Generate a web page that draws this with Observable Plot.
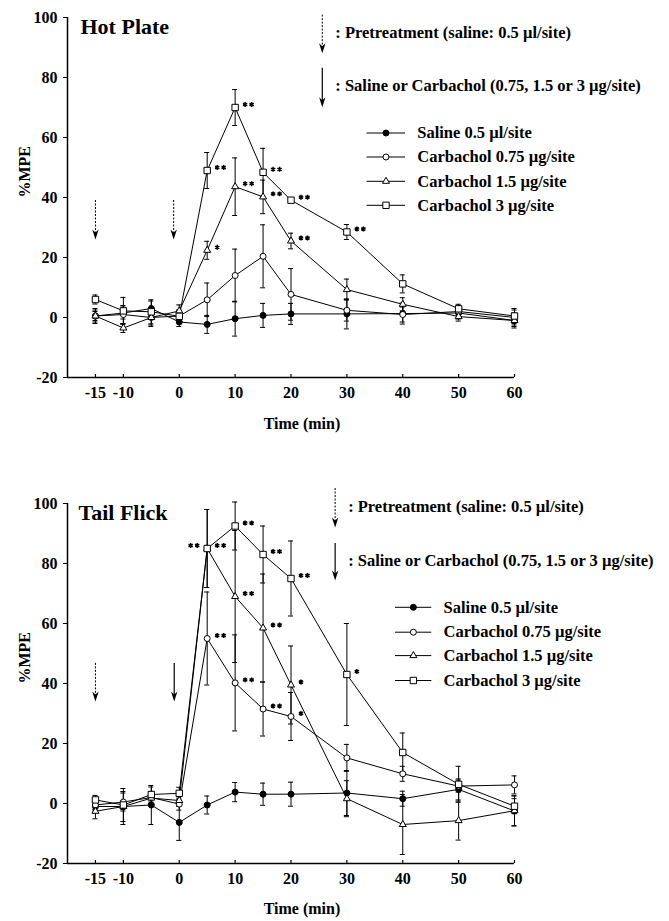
<!DOCTYPE html>
<html><head><meta charset="utf-8">
<script src="https://cdn.jsdelivr.net/npm/d3@7"></script>
<script src="https://cdn.jsdelivr.net/npm/@observablehq/plot@0.6"></script>
<style>
body{margin:0;background:#fff;}
#chart svg{display:block;overflow:visible;}
</style></head><body><div id="chart"></div>
<script>
// ---------- data ----------
const times = [-15, -10, -5, 0, 5, 10, 15, 20, 30, 40, 50, 60];
const xTicks = [-15, -10, 0, 10, 20, 30, 40, 50, 60];
const yTicks = [-20, 0, 20, 40, 60, 80, 100];
const seriesNames = ["Saline 0.5 µl/site", "Carbachol 0.75 µg/site", "Carbachol 1.5 µg/site", "Carbachol 3 µg/site"];
const xLabel = "Time (min)";
const yLabel = "%MPE";
const pretreatText = ": Pretreatment (saline: 0.5 µl/site)";
const treatText = ": Saline or Carbachol (0.75, 1.5 or 3 µg/site)";

// Hot Plate
const hpSaline    = [0.5, 1.5, 3, -1.5, -2.3, -0.4, 0.7, 1.2, 1.2, 1.3, 1.5, -1];
const hpSalineErr = [1.5, 2, 2.5, 1.5, 3, 5.8, 4, 3.5, 5, 3.5, 2, 2.5];
const hpC075      = [0.5, 1, 0, 0.5, 5.9, 14, 20.4, 7.7, 2.4, 1, 2, 0];
const hpC075Err   = [2, 3, 2.5, 2, 5.6, 8.8, 10.5, 8.6, 3.6, 2.5, 1.5, 2.5];
const hpC15       = [0.5, -3.5, 0, 2.2, 22.4, 43.6, 40.2, 25.5, 9.3, 4.4, 0.3, -1];
const hpC15Err    = [2.5, 1.5, 3, 2, 3, 9.6, 5.6, 2.6, 3.5, 2.2, 1.5, 2];
const hpC3        = [6, 2.2, 1.9, 0.4, 49, 70, 48.4, 39.1, 28.5, 11.2, 2.9, 0.5];
const hpC3Err     = [1.5, 4.5, 4, 2, 6, 6, 8, 0, 2.5, 3, 1.5, 2.5];
// significance: [series index, time, number of asterisks, side]
const hpSig = [[3,5,2,1],[3,10,2,1],[3,15,2,1],[3,20,2,1],[3,30,2,1],
               [2,5,1,1],[2,10,2,1],[2,15,2,1],[2,20,2,1]];
// panel arrows: [time, top, bottom, dashed]
const hpArrows = [[-15, 39, 26, 1], [-1, 39, 26, 1]];

// Tail Flick
const tfSaline    = [-1, -1, -0.5, -6.3, -0.5, 3.8, 3.1, 3.1, 3.5, 1.6, 4.7, -2.5];
const tfSalineErr = [1.5, 6, 6.5, 6, 3, 3.2, 3.7, 4, 7.5, 2.5, 3.5, 5];
const tfC075      = [-0.5, 0.5, 2, -0.2, 55, 40.2, 31.5, 29, 15.2, 9.9, 5.8, 6.2];
const tfC075Err   = [1.5, 3, 2, 2, 15.5, 16, 9, 8, 4.5, 2.5, 2, 3];
const tfC15       = [-2.6, -1, 1.8, 1, 85, 69, 58.5, 39.5, 1.6, -7, -5.7, -2.4];
const tfC15Err    = [2.5, 5, 2, 2, 13, 22, 18, 13, 6, 10, 6.5, 5];
const tfC3        = [1.2, -0.5, 3, 3.4, 85, 92.5, 83, 75, 43, 17, 6.4, -0.9];
const tfC3Err     = [1.5, 1.5, 2.5, 2, 13, 8, 9.5, 12.5, 17, 6.5, 6, 2.5];
const tfSig = [[3,5,2,1],[2,5,2,-1],[1,5,2,1],
               [3,10,2,1],[3,15,2,1],[3,20,2,1],[3,30,1,1],
               [2,10,2,1],[2,15,2,1],[2,20,1,1],
               [1,10,2,1],[1,15,2,1],[1,20,1,1]];
const tfArrows = [[-15, 46.7, 34, 1], [-0.9, 46.7, 34, 0]];

// ---------- drawing ----------
const FONT = "'Liberation Serif', 'Times New Roman', serif";

const arrowHead = {
  draw(ctx) {
    ctx.moveTo(0, 0);
    ctx.lineTo(-3.2, -10);
    ctx.lineTo(0, -7);
    ctx.lineTo(3.2, -10);
    ctx.closePath();
  }
};

function panel(cfg) {
  const rows = [];
  cfg.values.forEach((vals, s) => vals.forEach((v, j) => rows.push({s, t: times[j], v, e: cfg.errors[s][j]})));
  const withErr = rows.filter(d => d.e > 0);
  const find = (s, t) => rows.find(d => d.s === s && d.t === t);
  const stars = [];
  cfg.sig.forEach(([s, t, n, side]) => { for (let k = 0; k < n; k++) stars.push({...find(s, t), k, side}); });
  const arrows = cfg.arrows.map(([t, y1, y2, dashed]) => ({t, y1, y2, dashed}));
  const L = cfg.legend;
  const legRows = seriesNames.map((name, i) => ({i, name, y: L.rowY[i]}));
  const legArrows = [
    {t: L.arrowT, y1: L.arrowY[0], y2: L.arrowY[1], dashed: 1, text: pretreatText, ty: L.textY[0]},
    {t: L.arrowT, y1: L.arrowY[2], y2: L.arrowY[3], dashed: 0, text: treatText, ty: L.textY[1]}
  ];
  const allArrows = arrows.concat(legArrows);

  const dotStyles = [
    {symbol: "circle", fill: "black", stroke: "black", r: 3},
    {symbol: "circle", fill: "white", stroke: "black", r: 3},
    {symbol: "triangle", fill: "white", stroke: "black", r: 2.6},
    {symbol: "square", fill: "white", stroke: "black", r: 3.6}
  ];
  const txt = {fill: "black", fontWeight: "bold"};
  const starStyle = {x: "t", y: "v", symbol: "asterisk", r: 2.3, stroke: "black", strokeWidth: 1.5, dy: -3};

  const marks = [
    Plot.ruleX([-20], {y1: -20, y2: 100, stroke: "black", strokeWidth: 1.5}),
    Plot.ruleY([-20], {x1: -20, x2: 60, stroke: "black", strokeWidth: 1.5}),
    Plot.ruleX(xTicks, {x: d => d, y1: -20, y2: -19, stroke: "black", strokeWidth: 1.2}),
    Plot.axisY({ticks: yTicks, tickSize: 4, tickPadding: 6, tickFormat: d => String(d), fontSize: 16, fontWeight: "bold", fill: "black", label: null}),
    Plot.axisX({ticks: xTicks, tickSize: 0, tickPadding: 9, tickFormat: d => String(d), fontSize: 16, fontWeight: "bold", fill: "black", label: null}),
    Plot.text([xLabel], {frameAnchor: "bottom", dx: 11, dy: cfg.xLabelDy, text: d => d, fontSize: 16, ...txt}),
    Plot.text([yLabel], {frameAnchor: "left", dx: -43, rotate: -90, text: d => d, fontSize: 16, ...txt}),
    Plot.text([cfg.title], {frameAnchor: "top-left", dx: cfg.titleDx, dy: 9, text: d => d, fontSize: 22, textAnchor: "start", lineAnchor: "middle", ...txt}),
    Plot.ruleX(withErr, {x: "t", y1: d => d.v - d.e, y2: d => d.v + d.e, stroke: "black", strokeWidth: 1}),
    Plot.ruleY(withErr, {y: d => d.v + d.e, x1: d => d.t - 0.45, x2: d => d.t + 0.45, stroke: "black", strokeWidth: 1}),
    Plot.ruleY(withErr, {y: d => d.v - d.e, x1: d => d.t - 0.45, x2: d => d.t + 0.45, stroke: "black", strokeWidth: 1}),
    Plot.line(rows, {x: "t", y: "v", z: "s", stroke: "black", strokeWidth: 1}),
    ...dotStyles.map((st, s) => Plot.dot(rows.filter(d => d.s === s), {x: "t", y: "v", ...st, strokeWidth: 1})),
    // significance asterisks
    Plot.dot(stars.filter(d => d.side > 0 && d.k === 0), {...starStyle, dx: 10}),
    Plot.dot(stars.filter(d => d.side > 0 && d.k === 1), {...starStyle, dx: 16.5}),
    Plot.dot(stars.filter(d => d.side < 0 && d.k === 0), {...starStyle, dx: -10}),
    Plot.dot(stars.filter(d => d.side < 0 && d.k === 1), {...starStyle, dx: -16.5}),
    // arrows
    Plot.ruleX(allArrows.filter(d => d.dashed), {x: "t", y1: "y1", y2: "y2", stroke: "black", strokeWidth: 1, strokeDasharray: "2,1.5", insetBottom: 6}),
    Plot.ruleX(allArrows.filter(d => !d.dashed), {x: "t", y1: "y1", y2: "y2", stroke: "black", strokeWidth: 1.2, insetBottom: 6}),
    Plot.dot(allArrows, {x: "t", y: "y2", symbol: arrowHead, fill: "black", stroke: "none"}),
    Plot.text(legArrows, {x: "t", y: "ty", text: "text", dx: 13, textAnchor: "start", fontSize: 16.5, ...txt}),
    // series legend
    Plot.ruleY(legRows, {y: "y", x1: L.lineX[0], x2: L.lineX[1], stroke: "black", strokeWidth: 1}),
    ...dotStyles.map((st, s) => Plot.dot(legRows.filter(d => d.i === s), {x: L.markX, y: "y", ...st, strokeWidth: 1})),
    Plot.text(legRows, {x: L.textX, y: "y", text: "name", textAnchor: "start", fontSize: 16.5, ...txt})
  ];

  return Plot.plot({
    width: 669,
    height: cfg.height,
    marginLeft: 67,
    marginRight: 155,
    marginTop: cfg.marginTop,
    marginBottom: cfg.marginBottom,
    x: {domain: [-20, 60], axis: null},
    y: {domain: [-20, 100], axis: null},
    style: {fontFamily: FONT, fontWeight: "bold", color: "black", background: "white", overflow: "visible"},
    marks
  });
}

const topPanel = panel({
  title: "Hot Plate", titleDx: 13,
  values: [hpSaline, hpC075, hpC15, hpC3],
  errors: [hpSalineErr, hpC075Err, hpC15Err, hpC3Err],
  sig: hpSig, arrows: hpArrows,
  legend: {arrowT: 25.6, arrowY: [100.8, 88.1, 83.1, 70.1], textY: [94.8, 77.4],
           rowY: [61.5, 53.5, 45.4, 37.4], lineX: [33.6, 40.5], markX: 37, textX: 42.6},
  height: 460, marginTop: 17, marginBottom: 83, xLabelDy: 51
});
const bottomPanel = panel({
  title: "Tail Flick", titleDx: 11,
  values: [tfSaline, tfC075, tfC15, tfC3],
  errors: [tfSalineErr, tfC075Err, tfC15Err, tfC3Err],
  sig: tfSig, arrows: tfArrows,
  legend: {arrowT: 27.9, arrowY: [105, 92, 86.7, 74.3], textY: [98.8, 81],
           rowY: [65.4, 57.1, 49.3, 41], lineX: [38.7, 45.2], markX: 41.9, textX: 47.3},
  height: 461, marginTop: 43, marginBottom: 58, xLabelDy: 50
});
document.getElementById("chart").append(topPanel, bottomPanel);
</script>
</body></html>
